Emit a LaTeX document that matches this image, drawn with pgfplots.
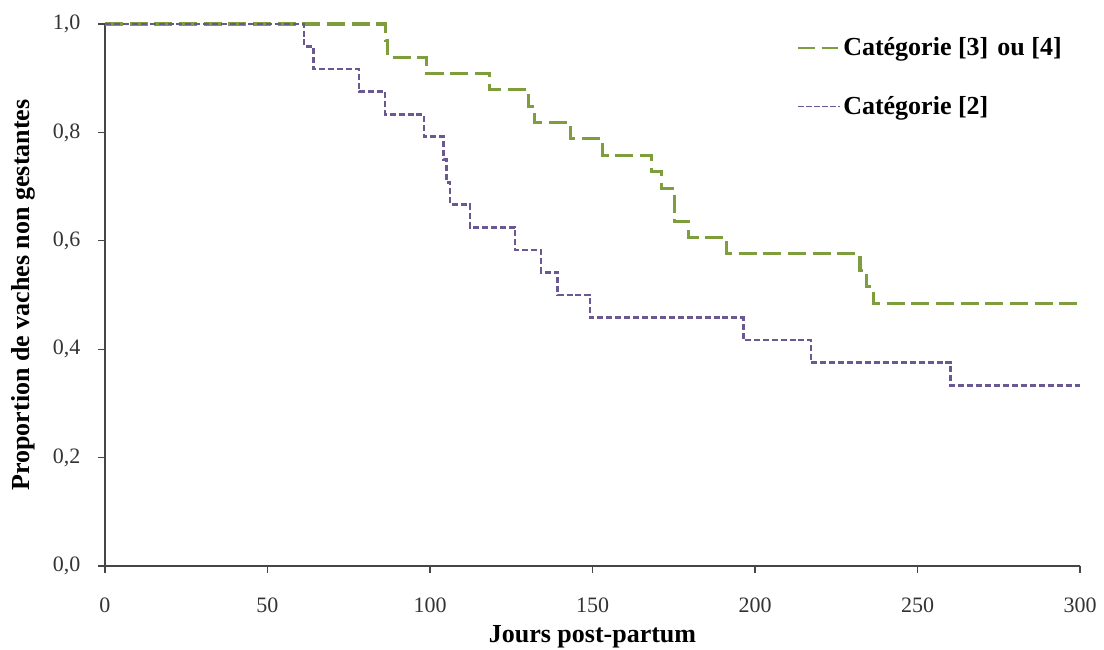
\documentclass[border=0pt]{standalone}
\usepackage{pgfplots}
\pgfplotsset{compat=1.18}
\usepackage{fontspec}
\setmainfont{Liberation Serif}
\definecolor{cgreen}{RGB}{126,158,62}
\definecolor{cpurple}{RGB}{106,88,146}
\definecolor{axgray}{RGB}{70,70,70}
\begin{document}
\begin{tikzpicture}
\useasboundingbox (-78.75pt,-63pt) rectangle (749.25pt,424.5pt);
\begin{axis}[
  at={(0,0)}, anchor=south west,
  scale only axis,
  width=731.25pt, height=406.5pt,
  xmin=0, xmax=300, ymin=0, ymax=1,
  axis lines*=left,
  axis line style={draw=axgray, line width=1pt, -},
  tick align=outside,
  major tick length=5pt,
  tick style={draw=axgray, line width=0.9pt},
  xtick={0,50,...,300},
  ytick={0,0.2,...,1.0},
  /pgf/number format/assume math mode=true,
  yticklabel style={/pgf/number format/fixed, /pgf/number format/fixed zerofill, /pgf/number format/precision=1, /pgf/number format/use comma, xshift=-10pt},
  ticklabel style={font=\fontsize{16.5}{19}\selectfont, text=black!80},
  xticklabel style={yshift=-15pt},
  xlabel={\textbf{Jours post-partum}},
  ylabel={\textbf{Proportion de vaches non gestantes}},
  label style={font=\fontsize{19.5}{22}\selectfont},
  xlabel style={at={([yshift=-53pt]axis description cs:0.5,0)}, anchor=center},
  ylabel style={at={([xshift=-61pt]axis description cs:0,0.5)}, anchor=center},
  legend style={draw=none, fill=none, at={(axis description cs:0.71,0.98)}, anchor=north west,
    font=\fontsize{19.5}{22}\selectfont\bfseries, row sep=25pt, inner sep=0pt,
    nodes={inner sep=2pt}},
  legend cell align=left,
  clip=false,
]
\addplot[const plot mark left, color=cgreen, line width=2.3pt, dash pattern=on 13.5pt off 5pt,
  legend image code/.code={\draw[cgreen, line width=1.3pt, dash pattern=on 12.5pt off 5pt] (0pt,0pt) -- (31pt,0pt);}] coordinates {
(0,1) (86.2,0.970) (87,0.939) (99,0.909) (118.3,0.879) (130.2,0.848) (132.1,0.818)
(143.1,0.788) (153,0.758) (168.2,0.727) (171.3,0.697) (175.2,0.636) (179.5,0.606)
(191.3,0.576) (232.3,0.545) (234.2,0.515) (236.4,0.485) (300,0.485)
};
\addlegendentry{Catégorie [3]\hspace{0.35em}ou [4]}
\addplot[const plot mark left, color=cpurple, line width=1.9pt, dash pattern=on 4.5pt off 2.2pt,
  legend image code/.code={\draw[cpurple, line width=1.3pt, dash pattern=on 4pt off 2pt] (0pt,0pt) -- (31pt,0pt);}] coordinates {
(0,1) (61.2,0.958) (64.1,0.917) (78.2,0.875) (86.2,0.833) (98.2,0.792) (104.1,0.75)
(105.1,0.708) (106.2,0.667) (112.3,0.625) (126.2,0.583) (134.2,0.542) (139.3,0.5)
(149.2,0.458) (196.4,0.417) (217.2,0.375) (260.2,0.333) (300,0.333)
};
\addlegendentry{Catégorie [2]}
\end{axis}
\end{tikzpicture}
\end{document}
